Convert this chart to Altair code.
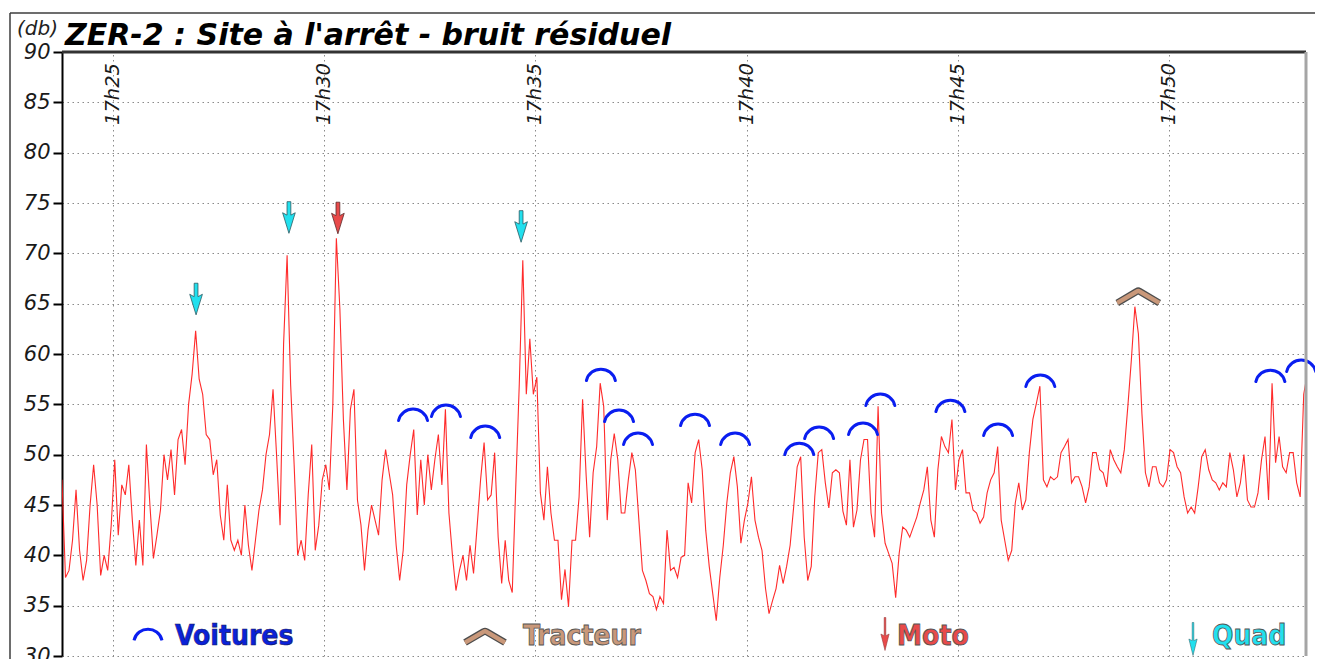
import altair as alt
import pandas as pd

# ---------------- data ----------------
START_MINUTE = 23 + 47 / 60          # 17h23:47 (minutes after 17h00)
STEP_SECONDS = 5

noise_db = [
    47.5, 37.8, 38.5, 41.5, 46.5, 40.5, 37.5, 39.5, 45, 49,
    45, 38, 40, 38.5, 43, 49.5, 42, 47, 46, 49,
    43.5, 39, 43.5, 39, 51, 45, 39.7, 42, 44.5, 50,
    47.5, 50.5, 46, 51.5, 52.5, 49, 55, 58, 62.3, 57.5,
    56, 52, 51.5, 48, 49.5, 44, 41.5, 47, 41.5, 40.5,
    41.5, 40, 45, 41, 38.5, 41.5, 44.5, 46.5, 50, 52,
    56.5, 50, 43, 61, 69.8, 57, 49, 40, 41.5, 39.5,
    46, 51, 40.5, 43, 47.5, 49, 46.5, 55, 71.5, 64.5,
    53.5, 46.5, 54.5, 56.5, 45.5, 43, 38.5, 42.5, 45,
    43.5, 42, 47.5, 50.5, 48.2, 46, 41, 37.5, 40.5, 47,
    50, 52.5, 44, 49.5, 45, 50, 46.5, 49.5, 52, 47,
    54.5, 44.2, 40, 36.5, 38.5, 40, 37.5, 41, 38.2, 42.8,
    47.5, 51.2, 45.5, 46, 50.2, 41.8, 37.2, 41.5, 37.5, 36.3,
    46.8, 57, 69.3, 56, 61.5, 56, 57.7, 46.2, 43.5, 48.8,
    44.2, 41.5, 41.5, 35.6, 38.6, 34.9, 41.5, 41.5, 45.8, 55.5,
    48, 41.8, 48.2, 50.8, 57.1, 54.8, 43.5, 49.5, 52.1, 49.5,
    44.2, 44.2, 47.5, 50.2, 48.5, 43.5, 38.5, 37.5, 36.2, 35.9,
    34.6, 35.9, 35.2, 42.5, 38.5, 38.8, 37.8, 39.8,
    40, 47.2, 45.2, 50.2, 51.5, 48.5, 42.5, 38.9, 36.2, 33.5,
    37.8, 41, 45.2, 48.2, 49.8, 46.8, 41.2, 43.5, 45.2, 47.8,
    43.5, 41.8, 40.5, 36.7, 34.2, 35.5, 36.7, 39, 37.2, 38.9,
    41, 44.8, 48.8, 49.8, 41.8, 37.5, 38.9, 45.8, 50.2, 50.5,
    47.2, 44.7, 48.2, 48.5, 48.2, 44.4, 43, 49.5, 42.8, 44.5,
    49.5, 51.5, 51.5, 44.2, 41.8, 54.8, 44.2, 41.2, 40.2, 39.2,
    35.8, 40.2, 42.8, 42.5, 41.8, 42.8, 43.8, 45.2, 46.5, 48.8,
    43.5, 41.8, 48.5, 51.8, 50.8, 50.2, 53.5, 46.5, 49.5, 50.5,
    46.2, 46.2, 44.5, 44.2, 43.2, 43.8, 46.2, 47.5, 48.2,
    50.8, 43.5, 41.5, 39.5, 40.5, 45.2, 47.2, 44.5, 45.5, 50.2,
    53.5, 55.1, 56.8, 47.5, 46.8, 47.8, 47.5, 47.8, 50.2, 50.8,
    51.5, 47.2, 47.8, 47.8, 46.8, 45.2, 46.8, 50.2, 50.2, 48.5,
    48.2, 46.8, 50.5, 49.5, 48.8, 48.2, 50.5, 54.8, 59.4, 64.7,
    62, 54.1, 48.2, 46.8, 48.8, 48.8, 47.2, 46.8, 47.5, 50.5,
    50.2, 48.8, 48.2, 45.8, 44.2, 44.8, 44.2, 46.8, 49.8, 50.5,
    48.5, 47.5, 47.2, 46.5, 47.2, 46.8, 50.2, 48.5, 45.8, 47.2,
    50, 45.5, 44.8, 44.8, 46.2, 49.5, 51.8, 45.5, 57.1, 49.2,
    51.8, 48.8, 48.2, 50.2, 50.2, 47.2, 45.8, 56, 58,
]
minutes = [START_MINUTE + i * STEP_SECONDS / 60 for i in range(len(noise_db))]

tick_minutes = [25, 30, 35, 40, 45, 50]
tick_labels = ["17h25", "17h30", "17h35", "17h40", "17h45", "17h50"]
y_ticks = [30, 35, 40, 45, 50, 55, 60, 65, 70, 75, 80, 85, 90]

car_minutes = [32.10, 32.88, 33.81, 36.55, 36.98, 37.43, 38.78, 39.73, 41.25,
               41.72, 42.76, 43.17, 44.83, 45.96, 46.96, 52.41, 53.14]
car_db = [54.04, 54.44, 52.35, 58.01, 53.94, 51.66, 53.54, 51.66, 50.66,
          52.25, 52.65, 55.53, 54.93, 52.55, 57.42, 57.91, 58.91]
tractor_minutes = [49.28]
tractor_db = [65.66]
moto_minutes = [30.32]
moto_db = [73.51]
quad_minutes = [26.96, 29.16, 34.66]
quad_db = [65.46, 73.56, 72.67]

title_text = "ZER-2 : Site à l'arrêt - bruit résiduel"
unit_text = "(db)"

# ---------------- layout / style ----------------
W, H = 1244, 604
X_DOMAIN = [23.784, 53.254]
Y_DOMAIN = [30, 90]
FONT = "DejaVu Sans"
LEG_FONT = "DejaVu Sans Condensed, Liberation Sans Narrow, DejaVu Sans"

ARC = "M-1,0.45C-0.75,-0.6,0.75,-0.6,1,0.45"
CHEVRON = "M-1,0.28L-0.06,-0.27Q0,-0.31,0.06,-0.27L1,0.28"
ARROW = "M-0.12,-1L0.12,-1L0.12,-0.15L0.4,-0.3L0,1L-0.4,-0.3L-0.12,-0.15Z"
THIN_ARROW = "M-0.05,-1L0.05,-1L0.05,0.1L0.25,0.0L0,1L-0.25,0.0L-0.05,0.1Z"

xs = alt.Scale(domain=X_DOMAIN, nice=False, zero=False)
ys = alt.Scale(domain=Y_DOMAIN, nice=False, zero=False)
x_axis = alt.Axis(values=tick_minutes, grid=True, gridColor="#8a8a8a", gridDash=[1.5, 3.5],
                  gridWidth=1, labels=False, ticks=False, domain=False, title=None, orient="top")
y_axis = alt.Axis(values=y_ticks, grid=True, gridColor="#8a8a8a", gridDash=[1.5, 3.5], gridWidth=1,
                  labelFont=FONT, labelFontStyle="italic", labelFontSize=21, labelColor="#1a1a1a",
                  labelPadding=3, tickColor="#000", tickSize=9, tickWidth=2,
                  domainColor="#000", domainWidth=2, title=None)
X = alt.X("minute:Q", scale=xs, axis=x_axis)
Y = alt.Y("db:Q", scale=ys, axis=y_axis)

series = pd.DataFrame({"minute": minutes, "db": noise_db})
cars = pd.DataFrame({"minute": car_minutes, "db": car_db})
tractors = pd.DataFrame({"minute": tractor_minutes, "db": tractor_db})
motos = pd.DataFrame({"minute": moto_minutes, "db": moto_db})
quads = pd.DataFrame({"minute": quad_minutes, "db": quad_db})
ticks_df = pd.DataFrame({"minute": tick_minutes, "label": tick_labels})
one = pd.DataFrame({"k": [0]})

line = alt.Chart(series).mark_line(color="#ff1414", strokeWidth=1.1, opacity=0.9, clip=True,
                                   interpolate="linear").encode(x=X, y=Y)

time_labels = alt.Chart(ticks_df).mark_text(
    angle=270, align="right", baseline="middle", font=FONT, fontStyle="italic",
    fontSize=19.5, color="#1a1a1a"
).encode(x=X, y=alt.value(11), text="label:N")

car_marks = alt.Chart(cars).mark_point(
    shape=ARC, filled=False, stroke="#0a1ef0", strokeWidth=3, size=841, opacity=1,
    strokeCap="round"
).encode(x=X, y=Y)

tractor_out = alt.Chart(tractors).mark_point(
    shape=CHEVRON, filled=False, stroke="#4d4d4d", strokeWidth=7, size=1764, opacity=1
).encode(x=X, y=Y)
tractor_in = alt.Chart(tractors).mark_point(
    shape=CHEVRON, filled=False, stroke="#c9987a", strokeWidth=4.5, size=1764, opacity=1
).encode(x=X, y=Y)

moto_marks = alt.Chart(motos).mark_point(
    shape=ARROW, filled=True, fill="#e84a4a", stroke="#5a2a2a", strokeWidth=0.8, size=1000, opacity=1
).encode(x=X, y=Y)
quad_marks = alt.Chart(quads).mark_point(
    shape=ARROW, filled=True, fill="#22e0ee", stroke="#2c5a62", strokeWidth=0.8, size=1000, opacity=1
).encode(x=X, y=Y)


def rule(x, y, x2=None, y2=None, color="#444", width=1.5):
    enc = {"x": alt.value(x), "y": alt.value(y)}
    if x2 is not None:
        enc["x2"] = alt.value(x2)
    if y2 is not None:
        enc["y2"] = alt.value(y2)
    return alt.Chart(one).mark_rule(color=color, strokeWidth=width).encode(**enc)


def text(t, x, y, size, color, weight="normal", style="normal", font=FONT, stroke=None, sw=0):
    kw = dict(text=t, align="left", baseline="alphabetic", font=font, fontSize=size,
              fontWeight=weight, fontStyle=style, fill=color)
    if stroke:
        kw.update(stroke=stroke, strokeWidth=sw)
    return alt.Chart(one).mark_text(**kw).encode(x=alt.value(x), y=alt.value(y))


def sym(shape, x, y, size, fill=None, stroke=None, sw=1):
    kw = dict(shape=shape, size=size, opacity=1)
    if fill:
        kw.update(filled=True, fill=fill)
    else:
        kw.update(filled=False)
    if stroke:
        kw.update(stroke=stroke, strokeWidth=sw)
    return alt.Chart(one).mark_point(**kw).encode(x=alt.value(x), y=alt.value(y))


frames = [
    rule(-52, -39, x2=1253, color="#3c3c3c", width=1.5),
    rule(-52, -39, y2=620, color="#3c3c3c", width=1.5),
    rule(0, 0, x2=W, color="#333", width=3),
    rule(W, 0, y2=H, color="#a5a5a5", width=3),
]

legend = [
    sym(ARC, 86, 582, 784, stroke="#0a1ef0", sw=3),
    text("Voitures", 113, 593, 28, "#0a22d8", weight="bold", font=LEG_FONT, stroke="#1a1a5a", sw=0.6),
    sym(CHEVRON, 423, 585, 1600, stroke="#4d4d4d", sw=7),
    sym(CHEVRON, 423, 585, 1600, stroke="#c9987a", sw=4.5),
    text("Tracteur", 461, 593, 28, "#c9987a", weight="bold", font=LEG_FONT, stroke="#555", sw=0.8),
    sym(THIN_ARROW, 823, 582, 1089, fill="#e84a4a", stroke="#8a3030", sw=0.5),
    text("Moto", 835, 593, 28, "#e84a4a", weight="bold", font=LEG_FONT, stroke="#555", sw=0.8),
    sym(THIN_ARROW, 1131, 587, 1089, fill="#22e0ee", stroke="#2c5a62", sw=0.5),
    text("Quad", 1150, 593, 28, "#22e0ee", weight="bold", font=LEG_FONT, stroke="#555", sw=0.8),
]

titles = [
    text(title_text, 3, -7, 30, "#000", weight="bold", style="italic"),
    text(unit_text, -45, -17, 20, "#222", style="italic"),
]

chart = alt.layer(
    line, time_labels, car_marks, tractor_out, tractor_in, moto_marks, quad_marks,
    *frames, *legend, *titles
).properties(
    width=W, height=H,
    padding={"left": 54, "top": 44, "right": 9, "bottom": 3},
    autosize=alt.AutoSizeParams(type="none"),
).configure_view(stroke=None)

chart.save("out.html", embed_options={"renderer": "svg", "actions": False})
